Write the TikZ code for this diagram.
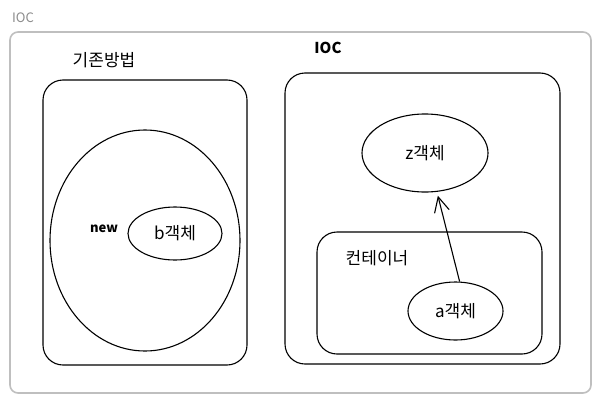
\documentclass[tikz,border=0pt]{standalone}
\usepackage{fontspec}
\setmainfont{Noto Sans CJK KR}
\usetikzlibrary{shapes.geometric, arrows.meta}

\begin{document}
\begin{tikzpicture}[x=1pt, y=-1pt,
					line width=1.1pt,
					frame/.style={draw=black!25, line width=1.6pt, rounded corners=8pt, inner sep=0pt},
					box/.style={draw, rounded corners=20pt, inner sep=0pt},
					obj/.style={draw, ellipse, inner sep=0pt, font=\fontsize{17}{20}\selectfont},
					txt/.style={inner sep=0pt, font=\fontsize{17}{20}\selectfont}]

	% canvas
	\useasboundingbox[fill=white] (0,0) rectangle (601,404);
	\node[frame, minimum width=581pt, minimum height=361pt] (all) at (300.5,212.5) {};
	\node[inner sep=0pt, text=black!45, font=\fontsize{13}{15}\selectfont] (title) at (23,18) {IOC};

	% left: the usual way
	\node[txt] (oldlabel) at (104,60) {기존방법};
	\node[box, minimum width=204pt, minimum height=285pt] (old) at (145,222.5) {};
	\node[draw, ellipse, inner sep=0pt, minimum width=190pt, minimum height=221pt] (heap) at (145,240.5) {};
	\node[txt, font=\fontsize{13}{15}\selectfont\bfseries] (new) at (104,229) {new};
	\node[obj, minimum width=94pt, minimum height=53pt] (bobj) at (175,233.5) {b객체};

	% right: inversion of control
	\node[txt, font=\fontsize{15}{18}\selectfont\bfseries] (ioc) at (328,48) {IOC};
	\node[box, minimum width=275pt, minimum height=291pt] (ctrl) at (422.5,218.5) {};
	\node[obj, minimum width=126pt, minimum height=78pt] (zobj) at (425,153) {z객체};
	\node[box, minimum width=225pt, minimum height=122pt] (cont) at (429.5,293) {};
	\node[txt] (contlabel) at (377,258) {컨테이너};
	\node[obj, minimum width=95pt, minimum height=58pt] (aobj) at (455.5,311) {a객체};

	\draw[-{Straight Barb[length=15pt, width=15pt]}, shorten >=4pt]
		(aobj.82) -- (zobj.-73);
\end{tikzpicture}
\end{document}
